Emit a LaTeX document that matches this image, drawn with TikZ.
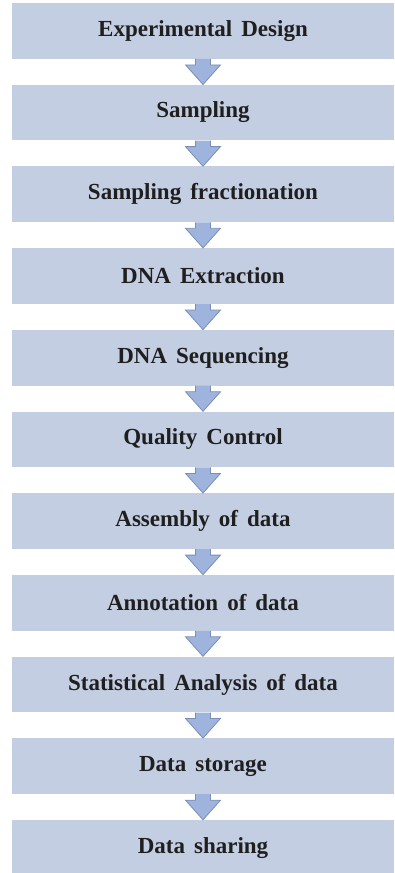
\documentclass[tikz,border=0pt]{standalone}
\usepackage{fontspec}
\setmainfont{Liberation Serif}
\usetikzlibrary{calc}
\definecolor{boxfill}{HTML}{C4CEE2}
\definecolor{arrfill}{HTML}{9FB4DC}
\definecolor{arrline}{HTML}{7A8EB6}
\tikzset{
  stepbox/.style={fill=boxfill, draw=none, minimum width=382pt, minimum height=55.7pt,
    inner sep=0pt, font=\bfseries\fontsize{23}{27}\selectfont, text=black!88,
    execute at begin node={\spaceskip=9pt\relax}},
  flowarrow/.style={fill=arrfill, draw=arrline, line width=0.8pt, line join=miter}
}
\begin{document}
\begin{tikzpicture}[x=1pt,y=-1pt]
\clip (0,0) rectangle (394,873);
\useasboundingbox (0,0) rectangle (394,873);
\foreach \i/\t in {0/Experimental Design,1/Sampling,2/Sampling fractionation,3/DNA Extraction,4/DNA Sequencing,5/Quality Control,6/Assembly of data,7/Annotation of data,8/Statistical Analysis of data,9/Data storage,10/Data sharing}{
  \node[stepbox] (b\i) at (203,{3+\i*81.7+27.85}) {\t};
}
\foreach \i [evaluate=\i as \j using int(\i+1)] in {0,...,9}{
  \filldraw[flowarrow] ($(b\i.south)+(-7.5,0)$) -- ($(b\i.south)+(-7.5,6)$) -- ($(b\i.south)+(-17.5,6)$)
    -- (b\j.north) -- ($(b\i.south)+(17.5,6)$) -- ($(b\i.south)+(7.5,6)$) -- ($(b\i.south)+(7.5,0)$);
}
\end{tikzpicture}
\end{document}
